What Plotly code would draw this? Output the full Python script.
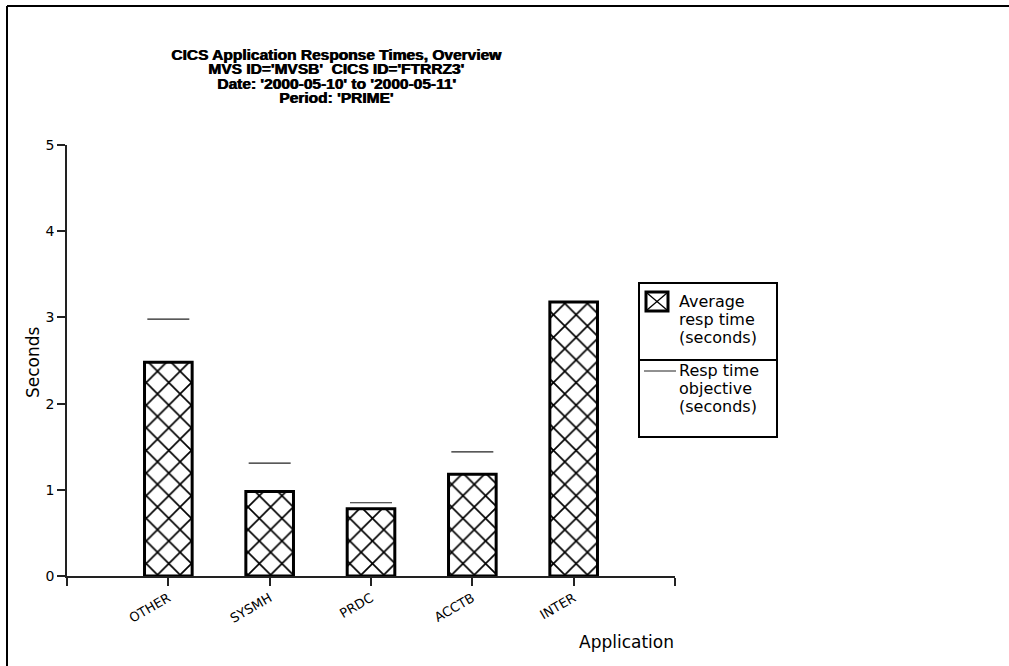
import plotly.graph_objects as go

# ---- data ----
applications = ["OTHER", "SYSMH", "PRDC", "ACCTB", "INTER"]
avg_resp_time = [2.48, 0.98, 0.78, 1.18, 3.18]
resp_objective = [2.98, 1.31, 0.85, 1.44, 5.02]
y_ticks = [0, 1, 2, 3, 4, 5]
title_lines = [
    "CICS Application Response Times, Overview",
    "MVS ID='MVSB'  CICS ID='FTRRZ3'",
    "Date: '2000-05-10' to '2000-05-11'",
    "Period: 'PRIME'",
]
legend_avg = ["Average", "resp time", "(seconds)"]
legend_obj = ["Resp time", "objective", "(seconds)"]

# ---- layout geometry (pixels) ----
W, H = 1009, 666
L, R, T, B = 67, 675, 145, 576


def px(x):
    return (x - L) / (R - L)


def py(y):
    return (B - y) / (B - T)


xpos = list(range(1, len(applications) + 1))
FONT = "DejaVu Sans"

fig = go.Figure()
fig.add_trace(go.Bar(
    x=xpos, y=avg_resp_time, width=0.47,
    marker=dict(color="white",
                line=dict(color="black", width=3),
                pattern=dict(shape="x", fgcolor="black", fgopacity=1, bgcolor="white",
                             size=16, solidity=0.2, fillmode="overlay")),
    showlegend=False, name="Average resp time (seconds)",
))
fig.add_trace(go.Scatter(
    x=xpos, y=resp_objective, mode="markers",
    marker=dict(symbol="line-ew", size=30, color="#222",
                line=dict(color="#222", width=1.2)),
    showlegend=False, name="Resp time objective (seconds)",
))

shapes = []
# outer frame (left and top)
shapes.append(dict(type="line", xref="paper", yref="paper",
                   x0=px(7), y0=py(H), x1=px(7), y1=py(6),
                   line=dict(color="black", width=2)))
shapes.append(dict(type="line", xref="paper", yref="paper",
                   x0=px(7), y0=py(6), x1=px(W), y1=py(6),
                   line=dict(color="black", width=2)))
# legend box
shapes.append(dict(type="rect", xref="paper", yref="paper",
                   x0=px(639), y0=py(437), x1=px(777), y1=py(283),
                   line=dict(color="black", width=2), fillcolor="white"))
shapes.append(dict(type="line", xref="paper", yref="paper",
                   x0=px(639), y0=py(360), x1=px(777), y1=py(360),
                   line=dict(color="black", width=2)))
# legend swatch
shapes.append(dict(type="rect", xref="paper", yref="paper",
                   x0=px(646), y0=py(311), x1=px(668), y1=py(292),
                   line=dict(color="black", width=3), fillcolor="white"))
shapes.append(dict(type="line", xref="paper", yref="paper",
                   x0=px(647), y0=py(310), x1=px(667), y1=py(293),
                   line=dict(color="black", width=1.3)))
shapes.append(dict(type="line", xref="paper", yref="paper",
                   x0=px(647), y0=py(293), x1=px(667), y1=py(310),
                   line=dict(color="black", width=1.3)))
# legend line
shapes.append(dict(type="line", xref="paper", yref="paper",
                   x0=px(644), y0=py(371), x1=px(676), y1=py(371),
                   line=dict(color="#222", width=1)))

annotations = []
title_y = [54, 68.5, 83.5, 98]
for line, yy in zip(title_lines, title_y):
    annotations.append(dict(text=f"<b>{line}</b>", xref="paper", yref="paper",
                            x=px(336), y=py(yy), xanchor="center", yanchor="middle",
                            showarrow=False,
                            font=dict(family="Liberation Sans", size=15.5, color="black",
                                      shadow="0.8px 0px 0px black")))
for line, yy in zip(legend_avg, [301, 319, 337]):
    annotations.append(dict(text=line, xref="paper", yref="paper",
                            x=px(677), y=py(yy), xanchor="left", yanchor="middle",
                            showarrow=False, font=dict(family=FONT, size=16, color="black")))
for line, yy in zip(legend_obj, [370, 388, 406]):
    annotations.append(dict(text=line, xref="paper", yref="paper",
                            x=px(677), y=py(yy), xanchor="left", yanchor="middle",
                            showarrow=False, font=dict(family=FONT, size=16, color="black")))
# axis titles
annotations.append(dict(text="Seconds", xref="paper", yref="paper",
                        x=px(33), y=py(362), xanchor="center", yanchor="middle",
                        textangle=-90, showarrow=False,
                        font=dict(family=FONT, size=17, color="black")))
annotations.append(dict(text="Application", xref="paper", yref="paper",
                        x=px(676), y=py(642), xanchor="right", yanchor="middle",
                        showarrow=False, font=dict(family=FONT, size=17, color="black")))

fig.update_layout(
    width=W, height=H,
    margin=dict(l=L, r=W - R, t=T, b=H - B, pad=0),
    paper_bgcolor="white", plot_bgcolor="white",
    shapes=shapes, annotations=annotations,
    showlegend=False,
    xaxis=dict(range=[0, len(applications) + 1],
               tickvals=list(range(0, len(applications) + 2)),
               ticktext=[""] + applications + [""],
               tickangle=-30, ticks="outside", ticklen=8, tickwidth=1.5,
               tickcolor="#222", showline=True, linecolor="#222", linewidth=1.5,
               showgrid=False, zeroline=False,
               tickfont=dict(family=FONT, size=13, color="black")),
    yaxis=dict(range=[0, 5], tickvals=y_ticks,
               ticks="outside", ticklen=8, tickwidth=1.5, tickcolor="#222",
               showline=True, linecolor="#222", linewidth=1.5,
               showgrid=False, zeroline=False,
               tickfont=dict(family=FONT, size=14, color="black")),
)

fig.write_html("out.html", config={"displayModeBar": False},
               post_script="document.body.style.margin='0px';")
